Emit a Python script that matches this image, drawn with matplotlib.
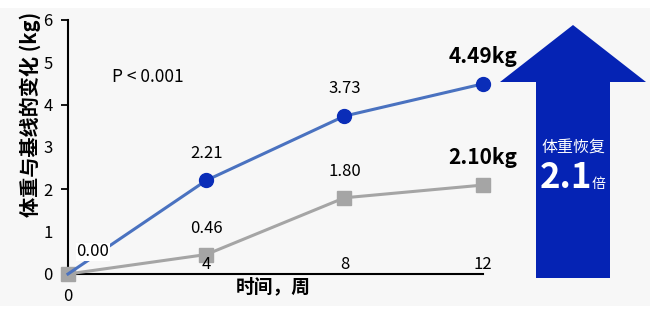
import matplotlib
matplotlib.use("Agg")
import matplotlib.pyplot as plt
from matplotlib.patches import Polygon, Rectangle

plt.rcParams['font.family'] = ['Noto Sans CJK SC', 'DejaVu Sans']

weeks = [0, 4, 8, 12]
blue_vals = [0.00, 2.21, 3.73, 4.49]
gray_vals = [0.00, 0.46, 1.80, 2.10]
blue_labels = ["0.00", "2.21", "3.73", "4.49kg"]
gray_labels = ["", "0.46", "1.80", "2.10kg"]
y_ticks = [0, 1, 2, 3, 4, 5, 6]
x_tick_labels = ["4", "8", "12"]

fig = plt.figure(figsize=(6.5, 3.14), dpi=100, facecolor="white")
fig.patches.append(Rectangle((0, 0.025), 1, 0.95, transform=fig.transFigure,
                             facecolor="#f7f7f7", edgecolor="none", zorder=-10))

ax = fig.add_axes([0.1046, 0.1274, 0.638, 0.809])
ax.set_facecolor("none")

ax.plot(weeks, gray_vals, color="#a5a5a5", lw=2.2, marker="s", ms=10,
        mfc="#a5a5a5", mec="#a5a5a5", clip_on=False, zorder=3)
ax.plot(weeks, blue_vals, color="#4a72c0", lw=2.2, marker="o", ms=10,
        mfc="#0a2db8", mec="#0a2db8", markevery=[1, 2, 3], clip_on=False, zorder=4)

ax.set_xlim(0, 12)
ax.set_ylim(0, 6)
ax.set_yticks(y_ticks)
ax.set_xticks([])
ax.tick_params(axis="y", length=5, width=1.3, labelsize=12, pad=6)
# only even ticks get a tick mark
for t, v in zip(ax.yaxis.get_major_ticks(), y_ticks):
    if v % 2:
        t.tick1line.set_visible(False)
for s in ["top", "right"]:
    ax.spines[s].set_visible(False)
ax.spines["left"].set_linewidth(1.5)
ax.spines["bottom"].set_linewidth(1.5)

# x tick labels drawn above the axis, 0 below
for w, t in zip(weeks[1:], x_tick_labels):
    ax.text(w, 0.23, t, ha="center", va="center", fontsize=12)
ax.text(0, -0.54, "0", ha="center", va="center", fontsize=12)

ax.set_ylabel("体重与基线的变化 (kg)", fontsize=14.5, fontweight="bold")
ax.yaxis.set_label_coords(-0.066, 0.63)
ax.text(5.95, -0.31, "时间，周", ha="center", va="center", fontsize=13.5, fontweight="bold")

# data labels
ax.text(0.72, 0.52, blue_labels[0], ha="center", va="center", fontsize=12,
        bbox=dict(facecolor="white", edgecolor="none", pad=0.5), zorder=5)
for i in [1, 2]:
    ax.text(weeks[i], blue_vals[i] + 0.64, blue_labels[i], ha="center", va="center", fontsize=12)
ax.text(weeks[3], blue_vals[3] + 0.64, blue_labels[3], ha="center", va="center",
        fontsize=15, fontweight="bold")
for i in [1, 2]:
    ax.text(weeks[i], gray_vals[i] + 0.62, gray_labels[i], ha="center", va="center", fontsize=12)
ax.text(weeks[3], gray_vals[3] + 0.66, gray_labels[3], ha="center", va="center",
        fontsize=15, fontweight="bold")

ax.text(2.3, 4.65, "P < 0.001", ha="center", va="center", fontsize=12.5)

# big arrow on the right (figure pixel coords -> fraction)
W, H = 650.0, 314.0
pts = [(500, 82), (573, 25), (646, 82), (610, 82), (610, 278), (536, 278), (536, 82)]
arrow = Polygon([(x / W, 1 - y / H) for x, y in pts], closed=True,
                transform=fig.transFigure, facecolor="#0523b4", edgecolor="none")
fig.patches.append(arrow)
fig.text(573 / W, 1 - 148 / H, "体重恢复", color="white", ha="center", va="center", fontsize=11.5)
fig.text(566 / W, 1 - 178 / H, "2.1", color="white", ha="center", va="center",
         fontsize=25, fontweight="bold")
fig.text(599 / W, 1 - 184 / H, "倍", color="white", ha="center", va="center", fontsize=10)

fig.savefig("out.png", dpi=100)
